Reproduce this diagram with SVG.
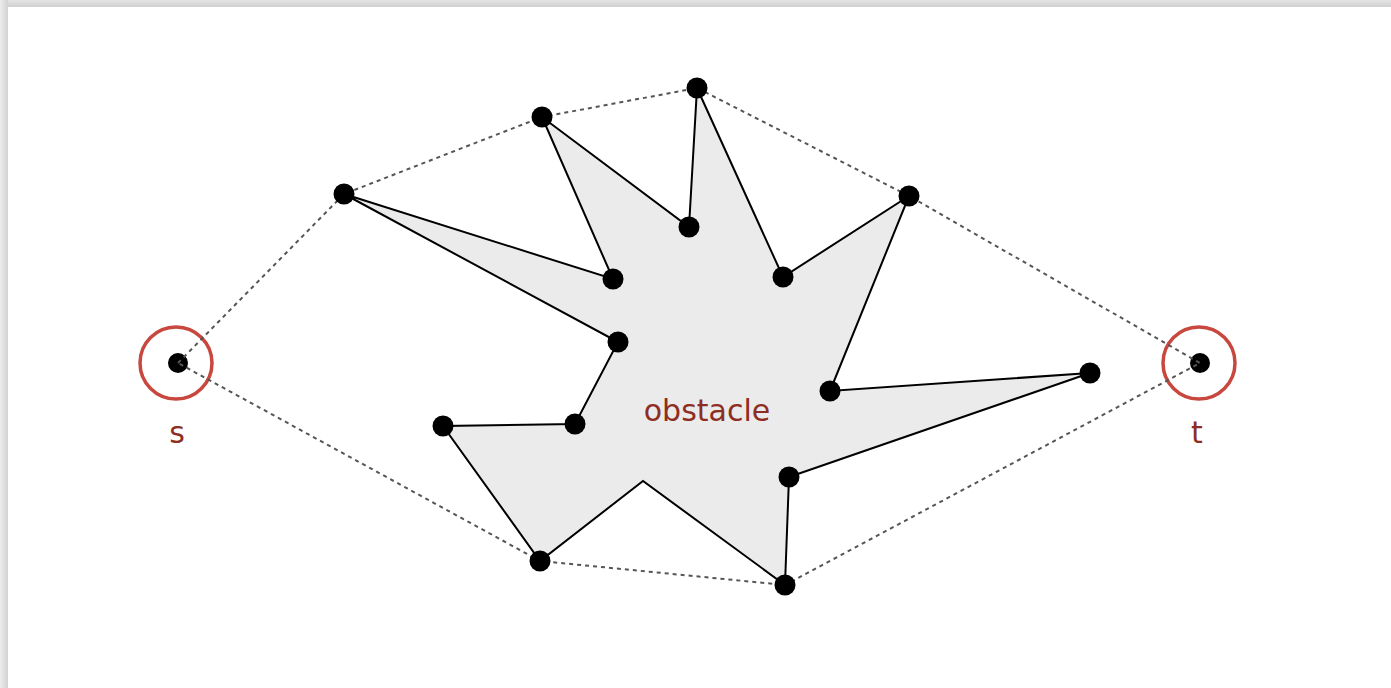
<svg xmlns="http://www.w3.org/2000/svg" width="1391" height="688" viewBox="0 0 1391 688">
<defs>
<linearGradient id="gt" x1="0" y1="0" x2="0" y2="1"><stop offset="0" stop-color="#e4e4e4"/><stop offset="1" stop-color="#cfcfcf"/></linearGradient>
<linearGradient id="gl" x1="0" y1="0" x2="1" y2="0"><stop offset="0" stop-color="#ececec"/><stop offset="1" stop-color="#d2d2d2"/></linearGradient>
<style>
.hull{fill:none;stroke:#555;stroke-width:2;stroke-dasharray:4,4}
.poly{fill:#ebebeb;stroke:#000;stroke-width:2;stroke-linejoin:miter}
.v{fill:#000}
.ring{fill:none;stroke:#c8473f;stroke-width:3.5}
.lbl{font-family:"DejaVu Sans",sans-serif;font-size:30px;fill:#8e2e22;text-anchor:middle}
</style>
</defs>
<rect width="1391" height="688" fill="#fff"/>
<rect x="0" y="0" width="1391" height="7" fill="url(#gt)"/>
<rect x="0" y="0" width="8" height="688" fill="url(#gl)"/>
<g id="obstacle">
<polygon class="poly" points="344,194 613,279 542,117 689,227 697,88 783,277 909,196 830,391 1090,373 789,477 785,585 643,481 540,561 443,426 575,424 618,342"/>
<text class="lbl" x="707" y="421">obstacle</text>
</g>
<g id="s">
<circle class="v" cx="178" cy="363" r="10"/>
<circle class="ring" cx="176" cy="363" r="36"/>
<text class="lbl" x="177" y="443">s</text>
</g>
<g id="t">
<circle class="v" cx="1200" cy="363" r="10"/>
<circle class="ring" cx="1199" cy="363" r="36"/>
<text class="lbl" x="1197" y="443">t</text>
</g>
<g id="connectors">
<polyline class="hull" points="178,363 344,194 542,117 697,88 909,196 1200,363 785,585 540,561 178,363"/>
</g>
<g id="vertices">
<circle class="v" cx="344" cy="194" r="10.5"/>
<circle class="v" cx="613" cy="279" r="10.5"/>
<circle class="v" cx="542" cy="117" r="10.5"/>
<circle class="v" cx="689" cy="227" r="10.5"/>
<circle class="v" cx="697" cy="88" r="10.5"/>
<circle class="v" cx="783" cy="277" r="10.5"/>
<circle class="v" cx="909" cy="196" r="10.5"/>
<circle class="v" cx="830" cy="391" r="10.5"/>
<circle class="v" cx="1090" cy="373" r="10.5"/>
<circle class="v" cx="789" cy="477" r="10.5"/>
<circle class="v" cx="785" cy="585" r="10.5"/>
<circle class="v" cx="540" cy="561" r="10.5"/>
<circle class="v" cx="443" cy="426" r="10.5"/>
<circle class="v" cx="575" cy="424" r="10.5"/>
<circle class="v" cx="618" cy="342" r="10.5"/>
</g>
</svg>
